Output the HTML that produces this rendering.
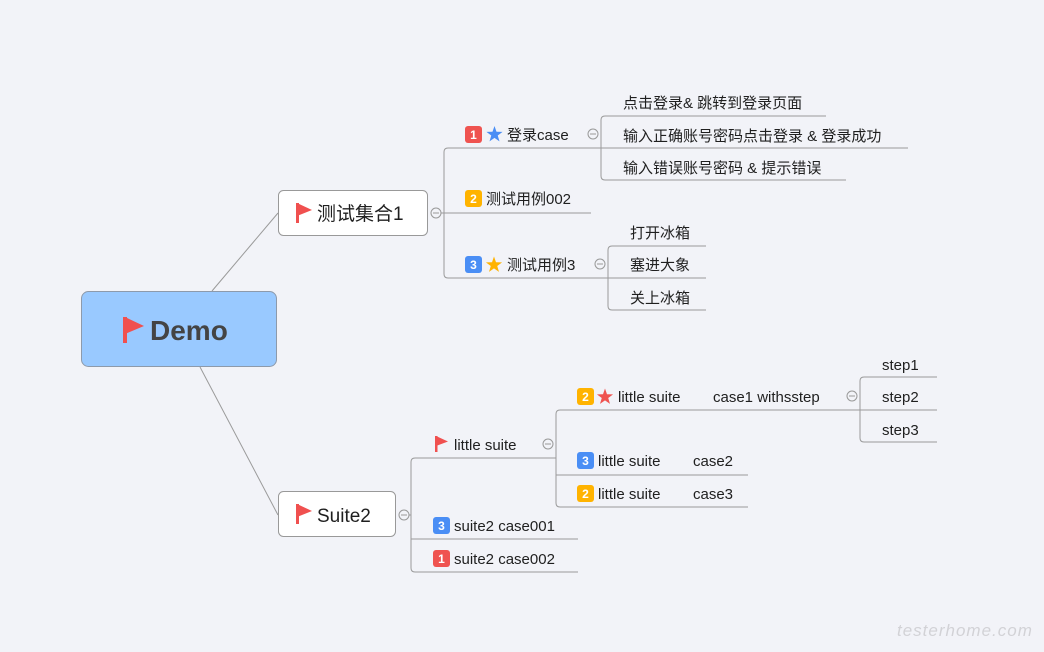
<!DOCTYPE html>
<html><head><meta charset="utf-8"><style>
html,body{margin:0;padding:0;background:#f2f3f8;}
svg{display:block;}
text{font-family:"Liberation Sans","Noto Sans CJK SC",sans-serif;fill:#1f1f1f;}
.t{font-size:15px;}
.b{font-size:12px;font-weight:bold;fill:#fff;text-anchor:middle;}
</style></head><body>
<svg width="1044" height="652" viewBox="0 0 1044 652" xmlns="http://www.w3.org/2000/svg">
<g fill="none" stroke="#9a9a9a" stroke-width="1">
<line x1="212" y1="291" x2="278" y2="213"/>
<line x1="200" y1="367" x2="278" y2="515"/>
<path d="M441 213 H444 M600 148 H448 Q444 148 444 152 V274 Q444 278 448 278 H608"/>
<line x1="444" y1="213" x2="591" y2="213"/>
<path d="M826 116 H605 Q601 116 601 120 V176 Q601 180 605 180 H846"/>
<line x1="600" y1="148" x2="908" y2="148"/>
<path d="M706 246 H612 Q608 246 608 250 V306 Q608 310 612 310 H706"/>
<line x1="608" y1="278" x2="706" y2="278"/>
<path d="M409 515 H411 M556 458 H415 Q411 458 411 462 V568 Q411 572 415 572 H578"/>
<line x1="411" y1="539" x2="578" y2="539"/>
<path d="M860 410 H560 Q556 410 556 414 V503 Q556 507 560 507 H748"/>
<line x1="556" y1="475" x2="748" y2="475"/>
<path d="M937 377 H864 Q860 377 860 381 V438 Q860 442 864 442 H937"/>
<line x1="860" y1="410" x2="937" y2="410"/>
</g>
<g fill="#f2f3f8" stroke="#999" stroke-width="1">
<circle cx="436" cy="213" r="5"/><circle cx="593" cy="134" r="5"/><circle cx="600" cy="264" r="5"/>
<circle cx="404" cy="515" r="5"/><circle cx="548" cy="444" r="5"/><circle cx="852" cy="396" r="5"/>
</g>
<g stroke="#999" stroke-width="1">
<line x1="433" y1="213" x2="439" y2="213"/><line x1="590" y1="134" x2="596" y2="134"/><line x1="597" y1="264" x2="603" y2="264"/>
<line x1="401" y1="515" x2="407" y2="515"/><line x1="545" y1="444" x2="551" y2="444"/><line x1="849" y1="396" x2="855" y2="396"/>
</g>
<rect x="81.5" y="291.5" width="195" height="75" rx="7" fill="#99c9ff" stroke="#8d9aab"/>
<rect x="278.5" y="190.5" width="149" height="45" rx="5" fill="#fff" stroke="#999"/>
<rect x="278.5" y="491.5" width="117" height="45" rx="5" fill="#fff" stroke="#999"/>
<g fill="#f0504f">
<rect x="123" y="317" width="4" height="26"/><path d="M125 317 L144 326 L125 334 Z"/>
<rect x="296" y="203" width="3" height="20"/><path d="M297 203 L312 210 L297 216 Z"/>
<rect x="296" y="504" width="3" height="20"/><path d="M297 504 L312 511 L297 517 Z"/>
<rect x="435" y="436" width="2.5" height="16"/><path d="M436 436 L448 441.5 L436 446 Z"/>
</g>
<text x="150" y="340" style="font-size:28px;font-weight:bold;fill:#444;">Demo</text>
<text x="317" y="220" style="font-size:19px;">测试集合1</text>
<text x="317" y="522" style="font-size:19px;">Suite2</text>
<g>
<rect x="465" y="126" width="17" height="17" rx="3" fill="#ef5350"/><text class="b" x="473.5" y="139">1</text>
<rect x="465" y="190" width="17" height="17" rx="3" fill="#ffb300"/><text class="b" x="473.5" y="203">2</text>
<rect x="465" y="256" width="17" height="17" rx="3" fill="#4a8ef5"/><text class="b" x="473.5" y="269">3</text>
<rect x="577" y="388" width="17" height="17" rx="3" fill="#ffb300"/><text class="b" x="585.5" y="401">2</text>
<rect x="577" y="452" width="17" height="17" rx="3" fill="#4a8ef5"/><text class="b" x="585.5" y="465">3</text>
<rect x="577" y="485" width="17" height="17" rx="3" fill="#ffb300"/><text class="b" x="585.5" y="498">2</text>
<rect x="433" y="517" width="17" height="17" rx="3" fill="#4a8ef5"/><text class="b" x="441.5" y="530">3</text>
<rect x="433" y="550" width="17" height="17" rx="3" fill="#ef5350"/><text class="b" x="441.5" y="563">1</text>
</g>
<g>
<path transform="translate(494.5,134.5) scale(8.5)" d="M0,-1 L0.235,-0.324 L0.951,-0.309 L0.38,0.124 L0.588,0.809 L0,0.4 L-0.588,0.809 L-0.38,0.124 L-0.951,-0.309 L-0.235,-0.324Z" fill="#4a8ef5"/>
<path transform="translate(494,265) scale(8.5)" d="M0,-1 L0.235,-0.324 L0.951,-0.309 L0.38,0.124 L0.588,0.809 L0,0.4 L-0.588,0.809 L-0.38,0.124 L-0.951,-0.309 L-0.235,-0.324Z" fill="#ffb300"/>
<path transform="translate(605,397) scale(8.5)" d="M0,-1 L0.235,-0.324 L0.951,-0.309 L0.38,0.124 L0.588,0.809 L0,0.4 L-0.588,0.809 L-0.38,0.124 L-0.951,-0.309 L-0.235,-0.324Z" fill="#ef5350"/>
</g>
<g>
<text class="t" x="507" y="140">登录case</text>
<text class="t" x="486" y="204">测试用例002</text>
<text class="t" x="507" y="270">测试用例3</text>
<text class="t" x="623" y="108">点击登录&amp; 跳转到登录页面</text>
<text class="t" x="623" y="141">输入正确账号密码点击登录 &amp; 登录成功</text>
<text class="t" x="623" y="173">输入错误账号密码 &amp; 提示错误</text>
<text class="t" x="630" y="238">打开冰箱</text>
<text class="t" x="630" y="270">塞进大象</text>
<text class="t" x="630" y="303">关上冰箱</text>
<text class="t" x="454" y="450">little suite</text>
<text class="t" x="618" y="402">little suite</text>
<text class="t" x="713" y="402">case1 withsstep</text>
<text class="t" x="598" y="466">little suite</text>
<text class="t" x="693" y="466">case2</text>
<text class="t" x="598" y="499">little suite</text>
<text class="t" x="693" y="499">case3</text>
<text class="t" x="454" y="531">suite2 case001</text>
<text class="t" x="454" y="564">suite2 case002</text>
<text class="t" x="882" y="370">step1</text>
<text class="t" x="882" y="402">step2</text>
<text class="t" x="882" y="435">step3</text>
</g>
<text x="897" y="636" style="font-size:17px;font-style:italic;fill:#d2d2d6;letter-spacing:1px;font-weight:300;">testerhome.com</text>
</svg>
</body></html>
